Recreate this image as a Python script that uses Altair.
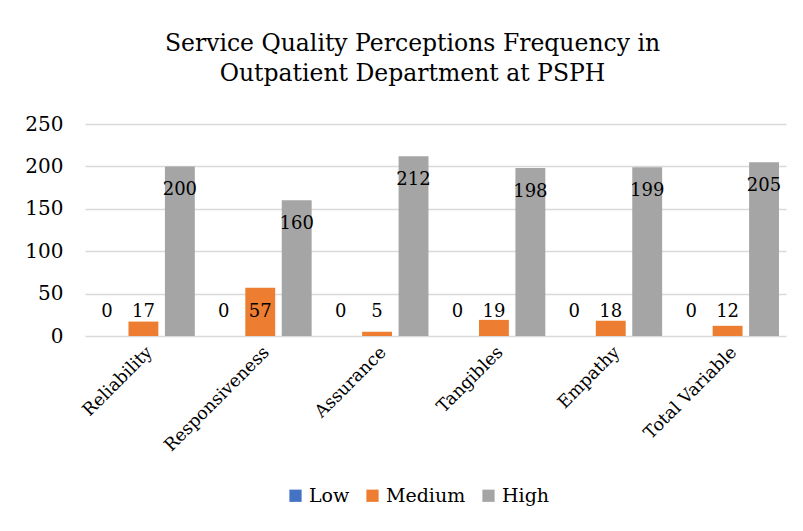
import altair as alt
import pandas as pd

categories = ["Reliability", "Responsiveness", "Assurance", "Tangibles", "Empathy", "Total Variable"]
series = ["Low", "Medium", "High"]
low = [0, 0, 0, 0, 0, 0]
medium = [17, 57, 5, 19, 18, 12]
high = [200, 160, 212, 198, 199, 205]
colors = ["#4472C4", "#ED7D31", "#A5A5A5"]

rows = []
for i, c in enumerate(categories):
    for s, vals in zip(series, [low, medium, high]):
        rows.append({"Category": c, "Series": s, "Value": vals[i]})
df = pd.DataFrame(rows)

FONT = "DejaVu Serif"

x = alt.X("Category:N", sort=categories, title=None,
          scale=alt.Scale(paddingInner=0.12, paddingOuter=0.06),
          axis=alt.Axis(labelAngle=-45, labelAlign="right", labelBaseline="top",
                        labelFontSize=17.5, labelFont=FONT, labelColor="#000000",
                        labelPadding=7, ticks=False, domain=False))
xo = alt.XOffset("Series:N", sort=series, scale=alt.Scale(paddingInner=0.18))

bars = alt.Chart(df).mark_bar().encode(
    x=x, xOffset=xo,
    y=alt.Y("Value:Q", scale=alt.Scale(domain=[0, 250]), title=None,
            axis=alt.Axis(values=[0, 50, 100, 150, 200, 250], labelFontSize=20,
                          labelFont=FONT, labelColor="#000000", labelPadding=22,
                          ticks=False, domain=False, gridColor="#D9D9D9", gridWidth=1.5)),
    color=alt.Color("Series:N", sort=series,
                    scale=alt.Scale(domain=series, range=colors),
                    legend=alt.Legend(title=None, orient="none", direction="horizontal",
                                      legendX=201, legendY=362, symbolType="square",
                                      symbolSize=150, labelFontSize=19, labelFont=FONT,
                                      labelColor="#000000", columnPadding=13,
                                      symbolStrokeWidth=0)),
)

labels = alt.Chart(df).transform_calculate(
    ly="datum.Series == 'High' ? datum.Value - 28 : 28"
).mark_text(fontSize=18, font=FONT, color="#000000", baseline="middle").encode(
    x=x, xOffset=xo,
    y=alt.Y("ly:Q", scale=alt.Scale(domain=[0, 250])),
    text="Value:Q",
)

chart = alt.layer(bars, labels).properties(
    width=701, height=212,
    autosize=alt.AutoSizeParams(type="none"),
    padding={"left": 77, "top": 116, "right": 9, "bottom": 187},
    title=alt.Title(["Service Quality Perceptions Frequency in", "Outpatient Department at PSPH"],
                    fontSize=23.5, font=FONT, fontWeight="normal", color="#000000",
                    anchor="middle", dx=-23, offset=29, lineHeight=30),
).configure_view(stroke=None)

chart.save("out.html", embed_options={"renderer": "svg", "actions": False})
